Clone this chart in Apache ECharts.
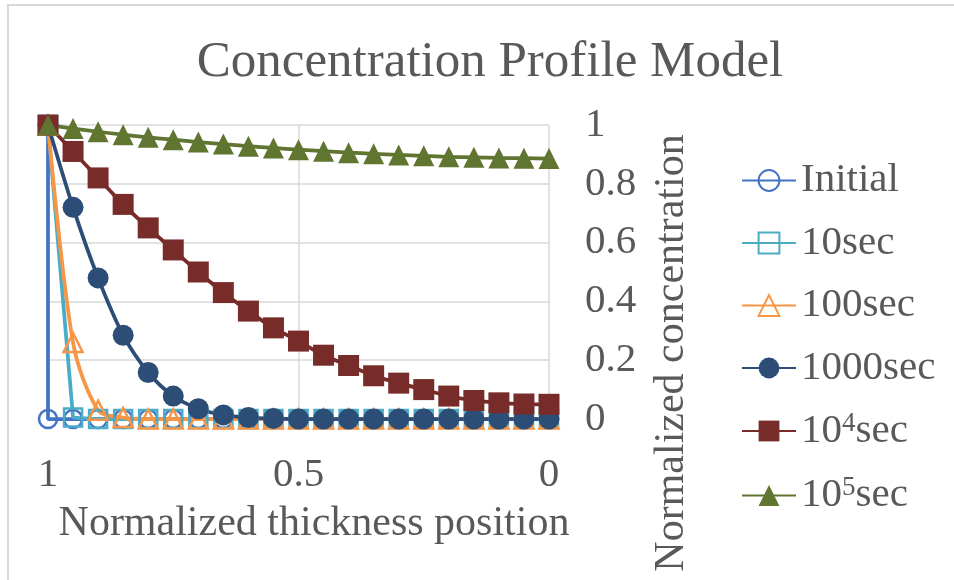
<!DOCTYPE html>
<html>
<head>
<meta charset="utf-8">
<script src="https://cdn.jsdelivr.net/npm/echarts@6/dist/echarts.min.js"></script>
<style>
html,body{margin:0;padding:0;background:#fff;}
#chart{width:954px;height:580px;}
</style>
</head>
<body>
<div id="chart"></div>
<script>
// ---- data ----
var positions = [1, 0.95, 0.9, 0.85, 0.8, 0.75, 0.7, 0.65, 0.6, 0.55, 0.5, 0.45, 0.4, 0.35, 0.3, 0.25, 0.2, 0.15, 0.1, 0.05, 0];
var initialPositions = [1, 1, 0.95, 0.9, 0.85, 0.8, 0.75, 0.7, 0.65, 0.6, 0.55, 0.5, 0.45, 0.4, 0.35, 0.3, 0.25, 0.2, 0.15, 0.1, 0.05, 0];
var initialValues = [1, 0, 0, 0, 0, 0, 0, 0, 0, 0, 0, 0, 0, 0, 0, 0, 0, 0, 0, 0, 0, 0];
var sec10 = [1, 0.005, 0, 0, 0, 0, 0, 0, 0, 0, 0, 0, 0, 0, 0, 0, 0, 0, 0, 0, 0];
var sec100 = [1, 0.26, 0.03, 0.005, 0, 0, 0, 0, 0, 0, 0, 0, 0, 0, 0, 0, 0, 0, 0, 0, 0];
var sec1000 = [1, 0.72, 0.48, 0.285, 0.158, 0.078, 0.035, 0.014, 0.005, 0.002, 0, 0, 0, 0, 0, 0, 0, 0, 0, 0, 0];
var sec1e4 = [1, 0.91, 0.82, 0.73, 0.65, 0.575, 0.50, 0.43, 0.367, 0.31, 0.265, 0.217, 0.182, 0.147, 0.122, 0.1, 0.078, 0.063, 0.055, 0.051, 0.05];
var sec1e5 = [1, 0.988, 0.977, 0.967, 0.958, 0.95, 0.942, 0.935, 0.928, 0.922, 0.916, 0.911, 0.906, 0.902, 0.898, 0.895, 0.892, 0.89, 0.888, 0.887, 0.886];
var seriesNames = ['Initial', '10sec', '100sec', '1000sec', '10⁴sec', '10⁵sec'];
var xTicks = [0, 0.5, 1];
var yTicks = [0, 0.2, 0.4, 0.6, 0.8, 1];
var titleText = 'Concentration Profile Model';
var xAxisTitle = 'Normalized thickness position';
var yAxisTitle = 'Normalized concentration';

function pairs(xs, ys) { return ys.map(function (v, i) { return [xs[i], v]; }); }

var FONT = '"Liberation Serif","Times New Roman",serif';
var TXT = '#595959';

var colors = ['#4472C4', '#4BACC6', '#F79646', '#2C4D75', '#772C2A', '#5F7530'];

function mk(name, data, color, symbol, size, hollow, smooth) {
  return {
    name: name, type: 'line', data: data, smooth: smooth || false,
    symbol: symbol, symbolSize: size, showAllSymbol: true,
    lineStyle: { color: color, width: 3.75 },
    itemStyle: hollow ? { color: 'rgba(255,255,255,0)', borderColor: color, borderWidth: 2.5 }
                      : { color: color, borderColor: color, borderWidth: 0 },
    emphasis: { disabled: true }
  };
}

var chart = echarts.init(document.getElementById('chart'));
chart.setOption({
  animation: false,
  backgroundColor: '#fff',
  title: {
    text: titleText, left: 485, top: 32, textAlign: 'center',
    textStyle: { fontFamily: FONT, fontSize: 51, fontWeight: 'normal', color: TXT }
  },
  graphic: [
    { type: 'line', shape: { x1: 7, y1: 5, x2: 954, y2: 5 }, style: { stroke: '#d9d9d9', lineWidth: 2 } },
    { type: 'line', shape: { x1: 8, y1: 5, x2: 8, y2: 580 }, style: { stroke: '#d9d9d9', lineWidth: 2 } },
    { type: 'text', x: 314, y: 524, style: { text: xAxisTitle, font: '42px ' + FONT, fill: TXT, textAlign: 'center', textVerticalAlign: 'middle' } },
    { type: 'text', x: 672, y: 353, rotation: Math.PI / 2, style: { text: yAxisTitle, font: '42px ' + FONT, fill: TXT, textAlign: 'center', textVerticalAlign: 'middle' } }
  ],
  grid: { left: 48, top: 125, width: 501, height: 294 },
  legend: {
    orient: 'vertical', left: 741, top: 160, itemGap: 21.5, padding: 0,
    itemWidth: 54, itemHeight: 26,
    data: seriesNames,
    formatter: function (n) {
      if (n === '10⁴sec') return '{a|10}{s|4}{a|sec}';
      if (n === '10⁵sec') return '{a|10}{s|5}{a|sec}';
      return '{a|' + n + '}';
    },
    textStyle: {
      fontFamily: FONT, fontSize: 41, color: TXT,
      rich: {
        a: { fontFamily: FONT, fontSize: 41, color: TXT, lineHeight: 42 },
        s: { fontFamily: FONT, fontSize: 27, color: TXT, lineHeight: 42, verticalAlign: 'top', padding: [0, 0, 16, 0] }
      }
    }
  },
  xAxis: {
    type: 'value', inverse: true, min: 0, max: 1, interval: 0.5,
    axisLine: { show: false }, axisTick: { show: false },
    axisLabel: { fontFamily: FONT, fontSize: 41, color: TXT, margin: 36,
      formatter: function (v) { return xTicks.indexOf(v) >= 0 ? String(v) : ''; } },
    splitLine: { show: true, lineStyle: { color: '#d9d9d9', width: 1.5 } }
  },
  yAxis: {
    type: 'value', position: 'right', min: 0, max: 1, interval: 0.2,
    axisLine: { show: false }, axisTick: { show: false },
    axisLabel: { fontFamily: FONT, fontSize: 41, color: TXT, margin: 36,
      formatter: function (v) { var r = Math.round(v * 10) / 10; return yTicks.indexOf(r) >= 0 ? String(r) : ''; } },
    splitLine: { show: true, lineStyle: { color: '#d9d9d9', width: 1.5 } }
  },
  series: [
    mk(seriesNames[0], pairs(initialPositions, initialValues), colors[0], 'circle', 18, true, false),
    mk(seriesNames[1], pairs(positions, sec10), colors[1], 'rect', 18, true, false),
    mk(seriesNames[2], pairs(positions, sec100), colors[2], 'triangle', 19, true, 0.3),
    mk(seriesNames[3], pairs(positions, sec1000), colors[3], 'circle', 21, false, 0.3),
    mk(seriesNames[4], pairs(positions, sec1e4), colors[4], 'rect', 21, false, 0.2),
    mk(seriesNames[5], pairs(positions, sec1e5), colors[5], 'triangle', 21, false, 0.2)
  ]
});
</script>
</body>
</html>
